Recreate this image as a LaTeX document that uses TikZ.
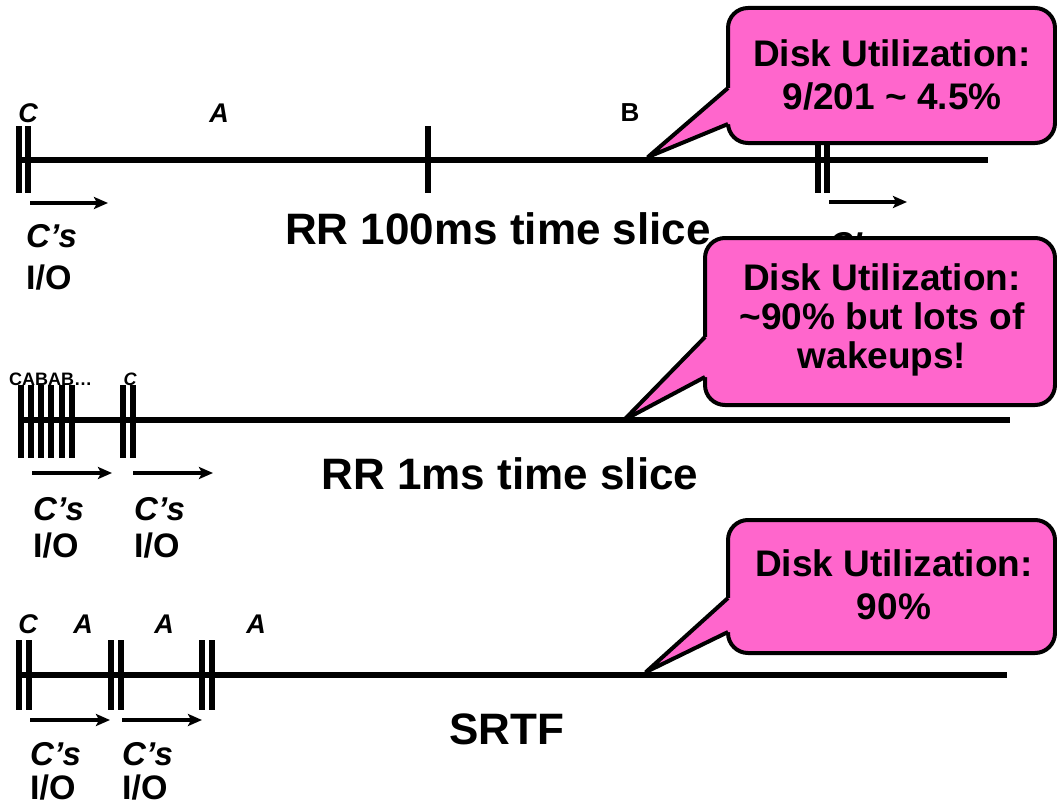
\documentclass[tikz,border=0pt]{standalone}
\usepackage{fontspec}
\setmainfont{Liberation Sans}
\usetikzlibrary{arrows.meta}
\definecolor{calloutpink}{RGB}{255,102,204}
\tikzset{
  tl/.style={line width=6pt},
  tick/.style={line width=5.5pt},
  ioarrow/.style={line width=4.5pt,-{Stealth[length=14pt,width=12pt,inset=3pt]}},
  lbl/.style={font=\fontsize{27}{30}\selectfont\bfseries\itshape, inner sep=0pt},
  lblup/.style={font=\fontsize{26}{30}\selectfont\bfseries, inner sep=0pt},
  cs/.style={font=\fontsize{33}{36}\selectfont\bfseries\itshape, inner sep=0pt, anchor=west},
  io/.style={font=\fontsize{34}{36}\selectfont\bfseries, inner sep=0pt, anchor=west},
  title/.style={font=\fontsize{44}{50}\selectfont\bfseries, inner sep=0pt},
  ctext/.style={font=\fontsize{37}{43}\selectfont\bfseries, inner sep=0pt, align=center},
  cbox/.style={fill=calloutpink, draw=black, line width=4pt, rounded corners=20pt},
  cptr/.style={draw=black, line width=4pt, line join=round},
}
\begin{document}
\begin{tikzpicture}[x=1pt,y=-1pt]
\useasboundingbox (0,0) rectangle (1057,808);
% ---------- Timeline 1 ----------
\coordinate (t1s) at (18,160); \coordinate (t1e) at (988,160);
\draw[tl] (t1s) -- (t1e);
\foreach \x in {19,28,428,818,827}{\draw[tick] (\x,126) -- (\x,193);}
\node[lbl] (c1) at (28,113) {C};
\node[lbl] (a1) at (219,113) {A};
\node[lblup] (b1) at (630,113) {B};
\coordinate (ar1s) at (30,203); \coordinate (ar1e) at (108,203);
\draw[ioarrow] (ar1s) -- (ar1e);
\coordinate (ar1bs) at (829,202); \coordinate (ar1be) at (907,202);
\draw[ioarrow] (ar1bs) -- (ar1be);
\node[cs] (cs1) at (26,236) {C's};
\node[io] (io1) at (26,278) {I/O};
\node[cs] (cs1b) at (829,244) {C's};
\node[title] (rr100) at (498,229) {RR 100ms time slice};
% ---------- Timeline 2 ----------
\coordinate (t2s) at (18,420); \coordinate (t2e) at (1010,420);
\draw[tl] (t2s) -- (t2e);
\foreach \x in {21,31,41,51,62,72,123,133}{\draw[tick] (\x,385) -- (\x,458);}
\node[font=\fontsize{18}{20}\selectfont\bfseries, inner sep=0pt, anchor=west] (cabab) at (9,379) {CABAB…};
\node[font=\fontsize{18}{20}\selectfont\bfseries\itshape, inner sep=0pt] (c2) at (130,379) {C};
\coordinate (ar2s) at (32,473); \coordinate (ar2e) at (112,473);
\draw[ioarrow] (ar2s) -- (ar2e);
\coordinate (ar2bs) at (133,473); \coordinate (ar2be) at (213,473);
\draw[ioarrow] (ar2bs) -- (ar2be);
\node[cs] (cs2) at (33,509) {C's};
\node[io] (io2) at (33,546) {I/O};
\node[cs] (cs2b) at (134,509) {C's};
\node[io] (io2b) at (134,546) {I/O};
\node[title] (rr1) at (510,474) {RR 1ms time slice};
% ---------- Timeline 3 ----------
\coordinate (t3s) at (18,675); \coordinate (t3e) at (1007,675);
\draw[tl] (t3s) -- (t3e);
\foreach \x in {19,29,111,121,202,212}{\draw[tick] (\x,640) -- (\x,710);}
\node[lbl] (c3) at (28,624) {C};
\node[lbl] (a3a) at (83,624) {A};
\node[lbl] (a3b) at (164,624) {A};
\node[lbl] (a3c) at (256,624) {A};
\coordinate (ar3s) at (30,720); \coordinate (ar3e) at (110,720);
\draw[ioarrow] (ar3s) -- (ar3e);
\coordinate (ar3bs) at (122,720); \coordinate (ar3be) at (202,720);
\draw[ioarrow] (ar3bs) -- (ar3be);
\node[cs] (cs3) at (30,754) {C's};
\node[io] (io3) at (30,788) {I/O};
\node[cs] (cs3b) at (122,754) {C's};
\node[io] (io3b) at (122,788) {I/O};
\node[title] (srtf) at (507,729) {SRTF};
% ---------- Callout 1 ----------
\draw[cbox] (728,8) rectangle (1055,143);
\coordinate (p1a) at (728,88); \coordinate (p1t) at (648,157); \coordinate (p1b) at (728,124);
\fill[calloutpink] (p1a) -- (p1t) -- (p1b) -- (740,124) -- (740,88) -- cycle;
\draw[cptr] (p1a) -- (p1t) -- (p1b);
\node[ctext] (u1) at (892,75) {Disk Utilization:\\9/201 \char`~{} 4.5\%};
% ---------- Callout 2 ----------
\draw[cbox] (705,238) rectangle (1055,405);
\coordinate (p2a) at (705,337); \coordinate (p2t) at (624,420); \coordinate (p2b) at (705,377);
\fill[calloutpink] (p2a) -- (p2t) -- (p2b) -- (717,377) -- (717,337) -- cycle;
\draw[cptr] (p2a) -- (p2t) -- (p2b);
\node[ctext, font=\fontsize{37}{39}\selectfont\bfseries] (u2) at (882,320) {Disk Utilization:\\\char`~90\% but lots of\\wakeups!};
% ---------- Callout 3 ----------
\draw[cbox] (728,520) rectangle (1055,653);
\coordinate (p3a) at (728,598); \coordinate (p3t) at (646,672); \coordinate (p3b) at (728,632);
\fill[calloutpink] (p3a) -- (p3t) -- (p3b) -- (740,632) -- (740,598) -- cycle;
\draw[cptr] (p3a) -- (p3t) -- (p3b);
\node[ctext] (u3) at (894,585) {Disk Utilization:\\90\%};
\end{tikzpicture}
\end{document}
